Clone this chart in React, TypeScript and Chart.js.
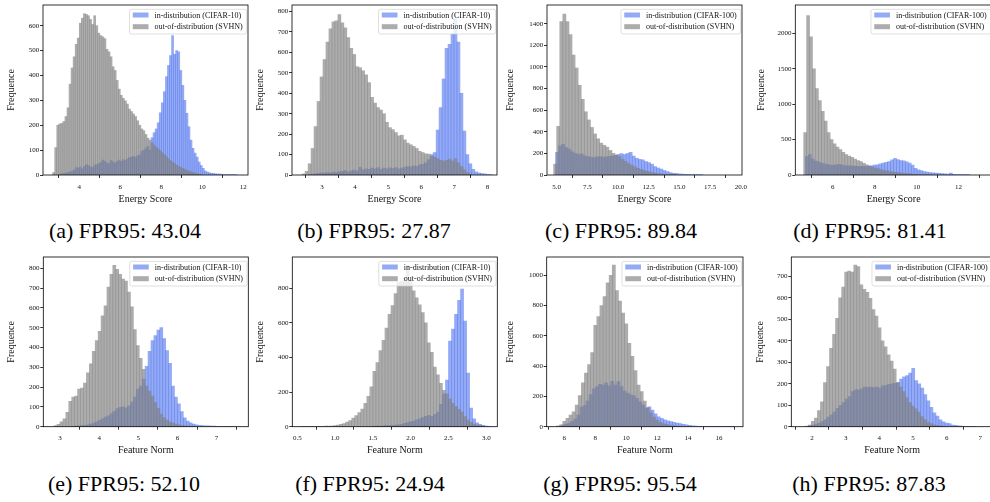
import React, { useEffect, useRef } from "react";
import { Chart, registerables } from "chart.js";

Chart.register(...registerables);

const FONT = "'Liberation Serif', 'DejaVu Serif', 'Times New Roman', serif";

// ---------------- data (histogram counts) ----------------
// (a) Energy score, CIFAR-10 vs SVHN
const aOodStart = 2.7, aOodWidth = 0.1;
const aOod = [10,110,200,205,208,215,235,270,365,430, 475,525,550,610,630,648,645,640,625,605, 640,600,570,560,555,548,505,495,475,435, 420,380,345,320,308,298,285,265,255,245, 235,218,200,185,178,163,148,140,130,120, 112,105,98,90,82,74,66,58,52,46, 40,35,31,27,23,19,16,13,10,8, 6,4,2];
const aIndStart = 3.0, aIndWidth = 0.1;
const aInd = [3,5,6,8,10,12,15,20,30,28, 32,25,35,42,38,33,30,40,42,45, 50,60,55,48,45,58,52,48,55,60, 55,62,58,65,70,72,75,72,78,80, 95,100,108,115,100,150,170,185,210,250, 290,335,395,440,480,560,485,500,495, 420,360,300,248,194,140,107,88,72,52,38,27,16,12,9,7,6,5,4,4,3,2,2,1,1,1,1,1];

// (b) Energy score, CIFAR-10 vs SVHN
const bOodStart = 2.4, bOodWidth = 0.09;
const bOod = [5,18,55,130,237,360,480,565,650,715, 750,755,785,745,720,672,620,590,530,525, 510,490,452,380,352,330,318,300,258,232, 222,208,192,195,172,156,148,140,130,116, 110,104,102,92,88,80,72,68,72,78, 68,80,60,42,26,12,6];
const bIndStart = 2.58, bIndWidth = 0.09;
const bInd = [2,4,6,8,10,9,12,10,14,12, 16,18,22,15,20,24,20,38,26,30, 28,34,30,36,28,34,30,35,32,36, 30,34,38,42,40,45,42,50,52,60, 75,100,110,220,330,470,620,640,690,765, 650,400,215,100,55,28,15,10,7,5, 3,2];

// (c) Energy score, CIFAR-100 vs SVHN
const cOodStart = 4.75, cOodWidth = 0.25;
const cOod = [100,450,1420,1490,1420,1300,1110,990,830,700, 585,510,440,380,335,295,275,258,228,200, 185,170,145,125,105,90,76,62,52,42, 33,26,20,15,11,7,5,3,2,1];
const cIndStart = 4.9, cIndWidth = 0.25;
const cInd = [210,270,285,255,240,215,200,190,195,178, 172,165,160,168,170,165,168,172,175,182, 190,198,190,200,210,175,155,145,140,125, 115,100,78,65,55,42,32,22,16,14, 10,8,6,6,4,2,1,1];

// (d) Energy score, CIFAR-100 vs SVHN
const dOodStart = 4.62, dOodWidth = 0.14;
const dOod = [600,2250,1950,1500,1220,1050,900,760,600,500, 440,395,360,320,290,268,250,225,205,188, 165,145,125,112,96,86,74,64,58,50, 42,36,32,28,24,20,15,11,8,5, 3,2,1];
const dIndStart = 4.7, dIndWidth = 0.14;
const dInd = [260,290,225,195,185,168,158,150,140,135, 145,150,140,132,128,130,125,122,118,122, 118,125,130,140,142,158,168,178,190,215, 235,218,205,200,185,168,140,95,72,62, 50,42,35,30,27,24,20,15,12,28, 8,5,4,3,2,1];

// (e) Feature norm, CIFAR-10 vs SVHN
const eOodStart = 2.85, eOodWidth = 0.075;
const eOod = [6,12,24,40,72,128,150,155,190,195, 220,272,318,380,435,482,560,610,705,770, 815,795,770,745,735,680,605,490,410,345, 290,205,180,155,122,93,64,46,33,25, 18,13,9,6,4,3,2,1];
const eIndStart = 3.3, eIndWidth = 0.075;
const eInd = [2,3,4,6,7,10,13,18,24,32, 40,48,55,65,78,92,98,100,95,105, 125,150,190,205,240,305,380,435,460,488, 500,445,385,320,205,150,115,76,45,28, 20,13,9,7,6,5,4,3,3,2, 2,2,1,1,1,1];

// (f) Feature norm, CIFAR-10 vs SVHN
const fOodStart = 0.54, fOodWidth = 0.04;
const fOod = [1,1,1,0,1,1,2,2,3,3, 4,6,10,14,18,26,35,50,65,82, 102,135,175,231,320,370,440,500,570,650, 700,770,835,840,860,930,840,785,745,705, 660,600,485,430,345,300,250,210,190,160, 135,118,100,85,58,38,25,15,10,6, 3];
const fIndStart = 1.5, fIndWidth = 0.04;
const fInd = [2,3,4,5,6,7,8,9,11,14, 19,24,28,33,40,46,52,60,66,60, 72,85,130,190,270,495,565,650,730,795, 610,310,108,45,22,13,8,4,2];

// (g) Feature norm, CIFAR-100 vs SVHN
const gOodStart = 5.5, gOodWidth = 0.2;
const gOod = [6,12,36,55,76,99,143,205,290,355, 410,490,670,727,800,860,950,1000,1068,900, 830,750,680,550,465,370,275,232,170,125, 92,64,44,29,20,15,10,6,4,2];
const gIndStart = 5.8, gIndWidth = 0.2;
const gInd = [10,16,22,35,51,77,130,140,170,212, 250,265,280,275,290,270,300,275,298,265, 235,222,210,205,188,165,145,125,132,110, 85,66,55,45,38,33,29,24,20,15, 13,9,6,4,3,2,2,1,1,1, 1,1,1,1,1,1];

// (h) Feature norm, CIFAR-100 vs SVHN
const hOodStart = 1.8, hOodWidth = 0.09;
const hOod = [3,7,25,40,75,116,205,280,365,430, 505,600,650,720,725,720,752,745,660,640, 625,598,545,515,460,400,372,334,305,268, 205,185,163,135,112,96,83,68,47,33, 21,14,9,6,4,2];
const hIndStart = 1.9, hIndWidth = 0.09;
const hInd = [4,8,12,17,24,32,45,55,68,86, 100,112,128,140,164,172,172,176,184,183, 185,182,185,180,190,192,197,200,202,205, 222,232,238,250,272,215,200,180,150,120, 90,65,50,32,23,17,14,8,6,4, 3,2,2,1,1];

// tick values
const aXTicks = [4, 6, 8, 10, 12];
const aYTicks = [0, 100, 200, 300, 400, 500, 600];
const bXTicks = [3, 4, 5, 6, 7, 8];
const bYTicks = [0, 100, 200, 300, 400, 500, 600, 700, 800];
const cXTicks = [5, 7.5, 10, 12.5, 15, 17.5, 20];
const cYTicks = [0, 200, 400, 600, 800, 1000, 1200, 1400];
const dXTicks = [6, 8, 10, 12];
const dYTicks = [0, 500, 1000, 1500, 2000];
const eXTicks = [3, 4, 5, 6, 7];
const eYTicks = [0, 100, 200, 300, 400, 500, 600, 700, 800];
const fXTicks = [0.5, 1.0, 1.5, 2.0, 2.5, 3.0];
const fYTicks = [0, 200, 400, 600, 800];
const gXTicks = [6, 8, 10, 12, 14, 16];
const gYTicks = [0, 200, 400, 600, 800, 1000];
const hXTicks = [2, 3, 4, 5, 6, 7];
const hYTicks = [0, 100, 200, 300, 400, 500, 600, 700];

const captions = ["(a) FPR95: 43.04", "(b) FPR95: 27.87", "(c) FPR95: 89.84", "(d) FPR95: 81.41",
  "(e) FPR95: 52.10", "(f) FPR95: 24.94", "(g) FPR95: 95.54", "(h) FPR95: 87.83"];
const xLabels = ["Energy Score", "Energy Score", "Energy Score", "Energy Score",
  "Feature Norm", "Feature Norm", "Feature Norm", "Feature Norm"];
const yLabel = "Frequence";
const inLabels = ["in-distribution (CIFAR-10)", "in-distribution (CIFAR-10)", "in-distribution (CIFAR-100)", "in-distribution (CIFAR-100)",
  "in-distribution (CIFAR-10)", "in-distribution (CIFAR-10)", "in-distribution (CIFAR-100)", "in-distribution (CIFAR-100)"];
const oodLabel = "out-of-distribution (SVHN)";

const BLUE = "rgba(60,100,235,0.55)";
const GRAY = "rgba(128,128,128,0.65)";

type Hist = { start: number; width: number; counts: number[] };
type Panel = {
  box: [number, number, number, number];
  xMin: number; xMax: number; yMax: number; xTicks: number[]; yTicks: number[]; xDec: number;
  yGap: number; capX: number; capY: number;
  ind: Hist; ood: Hist;
};

const panels: Panel[] = [
  { box: [43, 5, 248, 175], xMin: 2.23, xMax: 12.23, yMax: 683, xTicks: aXTicks, yTicks: aYTicks, xDec: 0, yGap: 28.8, capX: 125, capY: 238,
    ind: { start: aIndStart, width: aIndWidth, counts: aInd }, ood: { start: aOodStart, width: aOodWidth, counts: aOod } },
  { box: [292, 5, 497, 175], xMin: 2.093, xMax: 8.29, yMax: 832, xTicks: bXTicks, yTicks: bYTicks, xDec: 0, yGap: 28.8, capX: 374, capY: 238,
    ind: { start: bIndStart, width: bIndWidth, counts: bInd }, ood: { start: bOodStart, width: bOodWidth, counts: bOod } },
  { box: [547, 5, 742, 175], xMin: 4.21, xMax: 20.1, yMax: 1573, xTicks: cXTicks, yTicks: cYTicks, xDec: 1, yGap: 34.5, capX: 621, capY: 238,
    ind: { start: cIndStart, width: cIndWidth, counts: cInd }, ood: { start: cOodStart, width: cOodWidth, counts: cOod } },
  { box: [795.3, 5, 992, 175], xMin: 4.22, xMax: 13.59, yMax: 2400, xTicks: dXTicks, yTicks: dYTicks, xDec: 0, yGap: 31.8, capX: 870, capY: 238,
    ind: { start: dIndStart, width: dIndWidth, counts: dInd }, ood: { start: dOodStart, width: dOodWidth, counts: dOod } },
  { box: [43.3, 257, 248.3, 426.7], xMin: 2.574, xMax: 7.81, yMax: 857, xTicks: eXTicks, yTicks: eYTicks, xDec: 0, yGap: 29.1, capX: 124, capY: 491,
    ind: { start: eIndStart, width: eIndWidth, counts: eInd }, ood: { start: eOodStart, width: eOodWidth, counts: eOod } },
  { box: [292.3, 257, 497.3, 426.7], xMin: 0.434, xMax: 3.146, yMax: 981, xTicks: fXTicks, yTicks: fYTicks, xDec: 1, yGap: 29.1, capX: 370, capY: 491,
    ind: { start: fIndStart, width: fIndWidth, counts: fInd }, ood: { start: fOodStart, width: fOodWidth, counts: fOod } },
  { box: [546.7, 257, 743, 426.7], xMin: 4.86, xMax: 17.55, yMax: 1121, xTicks: gXTicks, yTicks: gYTicks, xDec: 0, yGap: 34.2, capX: 620, capY: 491,
    ind: { start: gIndStart, width: gIndWidth, counts: gInd }, ood: { start: gOodStart, width: gOodWidth, counts: gOod } },
  { box: [791.3, 257, 993, 426.7], xMin: 1.385, xMax: 7.375, yMax: 790, xTicks: hXTicks, yTicks: hYTicks, xDec: 0, yGap: 28.8, capX: 869, capY: 491,
    ind: { start: hIndStart, width: hIndWidth, counts: hInd }, ood: { start: hOodStart, width: hOodWidth, counts: hOod } },
];

const decorPlugin = {
  id: "decor",
  afterDraw(chart: any, _args: any, opts: any) {
    const { ctx, chartArea: ca } = chart;
    ctx.save();
    // legend
    const fs = 8;
    ctx.font = `${fs}px ${FONT}`;
    const tw = Math.max(ctx.measureText(opts.inLabel).width, ctx.measureText(opts.oodLabel).width);
    const bw = 3.3 + 15.7 + 6 + tw + 4;
    const bh = 24.7;
    const bx = ca.right - 1.3 - bw;
    const by = ca.top + 4.3;
    const r = 2;
    ctx.beginPath();
    ctx.moveTo(bx + r, by);
    ctx.lineTo(bx + bw - r, by);
    ctx.arcTo(bx + bw, by, bx + bw, by + r, r);
    ctx.lineTo(bx + bw, by + bh - r);
    ctx.arcTo(bx + bw, by + bh, bx + bw - r, by + bh, r);
    ctx.lineTo(bx + r, by + bh);
    ctx.arcTo(bx, by + bh, bx, by + bh - r, r);
    ctx.lineTo(bx, by + r);
    ctx.arcTo(bx, by, bx + r, by, r);
    ctx.closePath();
    ctx.fillStyle = "rgba(255,255,255,0.8)";
    ctx.fill();
    ctx.strokeStyle = "rgba(204,204,204,0.8)";
    ctx.lineWidth = 0.8;
    ctx.stroke();
    const rows = [
      { c: BLUE, t: opts.inLabel, y: by + 5.7 },
      { c: GRAY, t: opts.oodLabel, y: by + 17.4 },
    ];
    ctx.textAlign = "left";
    ctx.textBaseline = "middle";
    for (const row of rows) {
      ctx.fillStyle = row.c;
      ctx.fillRect(bx + 3.3, row.y - 2.5, 15.7, 5);
      ctx.fillStyle = "#111";
      ctx.fillText(row.t, bx + 25, row.y + 0.5);
    }
    // frame
    ctx.strokeStyle = "#000";
    ctx.lineWidth = 0.8;
    ctx.strokeRect(ca.left, ca.top, ca.right - ca.left, ca.bottom - ca.top);
    // axis labels
    ctx.fillStyle = "#111";
    ctx.font = `10px ${FONT}`;
    ctx.textAlign = "center";
    ctx.textBaseline = "alphabetic";
    ctx.fillText(opts.xLabel, (ca.left + ca.right) / 2, ca.bottom + 26.5);
    ctx.translate(ca.left - opts.yGap, (ca.top + ca.bottom) / 2);
    ctx.rotate(-Math.PI / 2);
    ctx.fillText(opts.yLabel, 0, 0);
    ctx.restore();
  },
};

function PanelChart({ p, idx }: { p: Panel; idx: number }) {
  const ref = useRef<HTMLCanvasElement>(null);
  const [L, T, R, B] = p.box;
  const cl = Math.floor(L) - 46;
  const ct = Math.floor(T) - 5;
  const cw = Math.ceil(R) + 6 - cl;
  const ch = Math.ceil(B) + 34 - ct;

  useEffect(() => {
    const toPts = (h: Hist) => h.counts.map((c, i) => ({ x: h.start + (i + 0.5) * h.width, y: c }));
    const chart = new Chart(ref.current as HTMLCanvasElement, {
      type: "bar",
      data: {
        datasets: [
          { label: inLabels[idx], data: toPts(p.ind) as any, backgroundColor: BLUE, xAxisID: "x", order: 1,
            barPercentage: 1, categoryPercentage: 1, grouped: false, borderWidth: 0 } as any,
          { label: oodLabel, data: toPts(p.ood) as any, backgroundColor: GRAY, xAxisID: "x2", order: 0,
            barPercentage: 1, categoryPercentage: 1, grouped: false, borderWidth: 0 } as any,
        ],
      },
      options: {
        responsive: false,
        animation: false,
        devicePixelRatio: 1,
        events: [],
        layout: { padding: { left: 0, top: T - ct, right: cw - (R - cl), bottom: 0 } },
        scales: {
          x: {
            type: "linear",
            min: p.xMin,
            max: p.xMax,
            offset: false,
            border: { display: false },
            grid: { display: true, drawOnChartArea: false, drawTicks: true, tickLength: 3, color: "#000", lineWidth: 0.8 },
            ticks: {
              autoSkip: false,
              maxRotation: 0,
              padding: 4.5,
              color: "#111",
              font: { size: 7, family: FONT },
              callback: (v: any) => Number(v).toFixed(p.xDec),
            } as any,
            afterBuildTicks: (s: any) => { s.ticks = p.xTicks.map((v) => ({ value: v })); },
            afterFit: (s: any) => { s.height = ch - (B - ct); s.paddingLeft = 0; s.paddingRight = 0; },
          } as any,
          x2: {
            type: "linear",
            display: false,
            min: p.xMin,
            max: p.xMax,
            offset: false,
            afterBuildTicks: (s: any) => { s.ticks = p.xTicks.map((v) => ({ value: v })); },
          } as any,
          y: {
            type: "linear",
            min: 0,
            max: p.yMax,
            border: { display: false },
            grid: { display: true, drawOnChartArea: false, drawTicks: true, tickLength: 3, color: "#000", lineWidth: 0.8 },
            ticks: {
              autoSkip: false,
              padding: 0.7,
              color: "#111",
              font: { size: 7, family: FONT },
              callback: (v: any) => String(v),
            } as any,
            afterBuildTicks: (s: any) => { s.ticks = p.yTicks.map((v) => ({ value: v })); },
            afterFit: (s: any) => { s.width = L - cl; s.paddingTop = 0; s.paddingBottom = 0; },
          } as any,
        },
        plugins: {
          legend: { display: false },
          tooltip: { enabled: false },
          decor: { inLabel: inLabels[idx], oodLabel, xLabel: xLabels[idx], yLabel, yGap: p.yGap },
        } as any,
      },
      plugins: [decorPlugin as any],
    });
    return () => chart.destroy();
  }, []);

  return (
    <canvas
      ref={ref}
      width={cw}
      height={ch}
      style={{ position: "absolute", left: cl, top: ct, width: cw, height: ch, display: "block" }}
    />
  );
}

export default function App() {
  return (
    <div style={{ position: "fixed", left: 0, top: 0, width: 990, height: 502, overflow: "hidden", background: "#fff" }}>
      {panels.map((p, i) => (
        <PanelChart key={i} p={p} idx={i} />
      ))}
      {panels.map((p, i) => (
        <div
          key={"c" + i}
          style={{
            position: "absolute",
            left: p.capX - 150,
            width: 300,
            top: p.capY - 18.4,
            height: 22,
            lineHeight: "22px",
            fontSize: 22,
            fontFamily: FONT,
            textAlign: "center",
            whiteSpace: "nowrap",
            color: "#000",
          }}
        >
          {captions[i]}
        </div>
      ))}
    </div>
  );
}
